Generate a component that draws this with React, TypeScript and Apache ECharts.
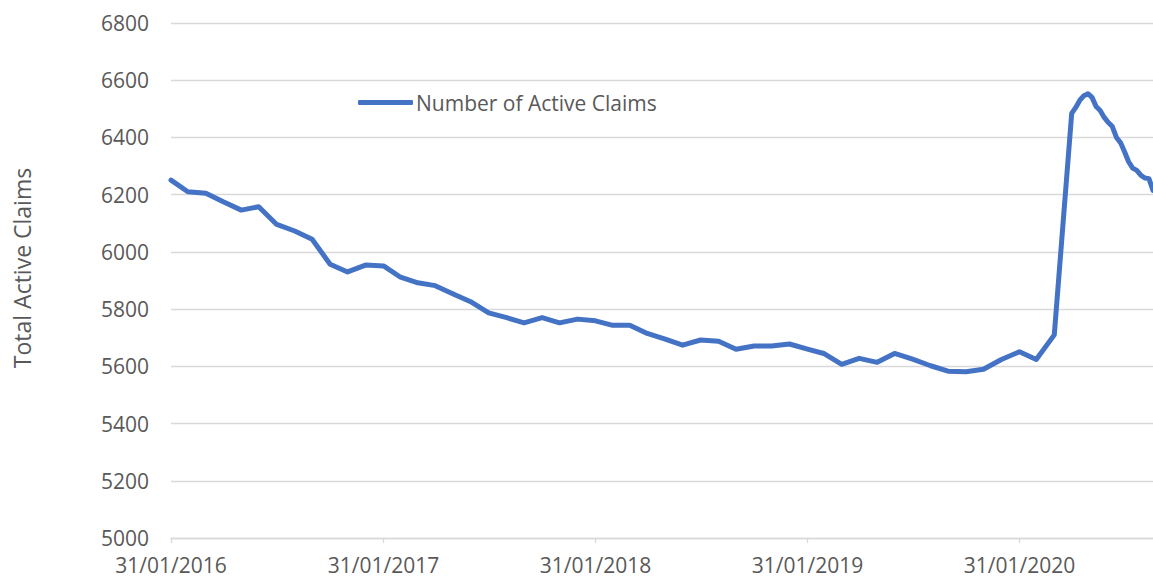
import React, { useEffect, useRef } from "react";
import * as echarts from "echarts";

const SERIES_NAME = "Number of Active Claims";
const Y_TITLE = "Total Active Claims";

const dates: string[] = [
  "2016-01-31", "2016-02-29", "2016-03-31", "2016-04-30", "2016-05-31", "2016-06-30",
  "2016-07-31", "2016-08-31", "2016-09-30", "2016-10-31", "2016-11-30", "2016-12-31",
  "2017-01-31", "2017-02-28", "2017-03-31", "2017-04-30", "2017-05-31", "2017-06-30",
  "2017-07-31", "2017-08-31", "2017-09-30", "2017-10-31", "2017-11-30", "2017-12-31",
  "2018-01-31", "2018-02-28", "2018-03-31", "2018-04-30", "2018-05-31", "2018-06-30",
  "2018-07-31", "2018-08-31", "2018-09-30", "2018-10-31", "2018-11-30", "2018-12-31",
  "2019-01-31", "2019-02-28", "2019-03-31", "2019-04-30", "2019-05-31", "2019-06-30",
  "2019-07-31", "2019-08-31", "2019-09-30", "2019-10-31", "2019-11-30", "2019-12-31",
  "2020-01-31", "2020-02-29", "2020-03-31", "2020-04-30",
  "2020-05-07", "2020-05-14", "2020-05-21", "2020-05-28", "2020-06-04", "2020-06-11",
  "2020-06-18", "2020-06-25", "2020-07-02", "2020-07-09", "2020-07-16", "2020-07-23",
  "2020-07-30", "2020-08-06", "2020-08-13", "2020-08-20", "2020-08-27", "2020-09-03",
  "2020-09-10", "2020-09-17",
];

const activeClaims: number[] = [
  6251, 6210, 6205, 6175, 6146, 6158,
  6096, 6073, 6044, 5957, 5930, 5954,
  5951, 5913, 5892, 5882, 5853, 5826,
  5787, 5770, 5752, 5770, 5752, 5765,
  5759, 5744, 5744, 5715, 5695, 5674,
  5692, 5688, 5660, 5671, 5671, 5678,
  5660, 5645, 5607, 5628, 5614, 5645,
  5625, 5602, 5583, 5581, 5590, 5624,
  5651, 5624, 5710, 6484,
  6505, 6530, 6546, 6553, 6540, 6508,
  6494, 6470, 6452, 6438, 6400, 6382,
  6350, 6315, 6293, 6285, 6268, 6258,
  6256, 6215,
];

const xTickDates: string[] = ["2016-01-31", "2017-01-31", "2018-01-31", "2019-01-31", "2020-01-31"];
const xEndDate = "2020-09-17";
const yMin = 5000;
const yMax = 6800;
const yStep = 200;

const DAY = 86400000;
const START = Date.parse(dates[0] + "T00:00:00Z");
const dayOf = (s: string) => Math.round((Date.parse(s + "T00:00:00Z") - START) / DAY);
const pad = (n: number) => (n < 10 ? "0" + n : "" + n);
const fmt = (v: number) => {
  const d = new Date(START + Math.round(v) * DAY);
  return pad(d.getUTCDate()) + "/" + pad(d.getUTCMonth() + 1) + "/" + d.getUTCFullYear();
};

const FONT = "'Open Sans', 'Noto Sans', sans-serif";
const TEXT = "#595959";
const GRID = "#d9d9d9";
const LINE = "#4472C4";

export default function App() {
  const ref = useRef<HTMLDivElement>(null);
  useEffect(() => {
    if (!ref.current) return;
    const chart = echarts.init(ref.current, undefined, { renderer: "svg" });
    const tickDays = xTickDates.map(dayOf);
    chart.setOption({
      animation: false,
      backgroundColor: "#ffffff",
      grid: { left: 171, right: 0, top: 23, bottom: 43, containLabel: false },
      legend: {
        left: 358,
        top: 92,
        padding: 0,
        icon: "roundRect",
        itemWidth: 55,
        itemHeight: 5,
        itemStyle: { color: LINE, borderWidth: 0 },
        textStyle: { fontSize: 21, color: TEXT, fontFamily: FONT, padding: [0, 0, 0, -2] },
        data: [SERIES_NAME],
      },
      graphic: [
        {
          type: "text",
          x: 22,
          y: 268,
          rotation: Math.PI / 2,
          style: {
            text: Y_TITLE,
            fontSize: 23,
            fontFamily: FONT,
            fill: TEXT,
            align: "center",
            verticalAlign: "middle",
          },
        },
      ],
      xAxis: {
        type: "value",
        min: 0,
        max: dayOf(xEndDate),
        axisLine: { show: true, lineStyle: { color: GRID, width: 1.3 } },
        axisTick: {
          show: true,
          inside: false,
          length: 5,
          customValues: tickDays,
          lineStyle: { color: GRID, width: 1.3 },
        },
        axisLabel: {
          customValues: tickDays,
          formatter: (v: number) => fmt(v),
          fontSize: 21,
          fontFamily: FONT,
          color: TEXT,
          margin: 16,
        },
        splitLine: { show: false },
      },
      yAxis: {
        type: "value",
        min: yMin,
        max: yMax,
        interval: yStep,
        axisLine: { show: false },
        axisTick: { show: false },
        axisLabel: {
          formatter: (v: number) => String(v),
          fontSize: 21,
          fontFamily: FONT,
          color: TEXT,
          margin: 22,
        },
        splitLine: { show: true, lineStyle: { color: GRID, width: 1.3 } },
      },
      series: [
        {
          name: SERIES_NAME,
          type: "line",
          symbol: "none",
          data: dates.map((d, i) => [dayOf(d), activeClaims[i]]),
          lineStyle: { color: LINE, width: 5, cap: "round", join: "round" },
          itemStyle: { color: LINE },
        },
      ],
    });
    return () => chart.dispose();
  }, []);
  return (
    <div
      ref={ref}
      style={{ position: "fixed", left: 0, top: 0, width: 1153, height: 581, background: "#fff" }}
    />
  );
}
